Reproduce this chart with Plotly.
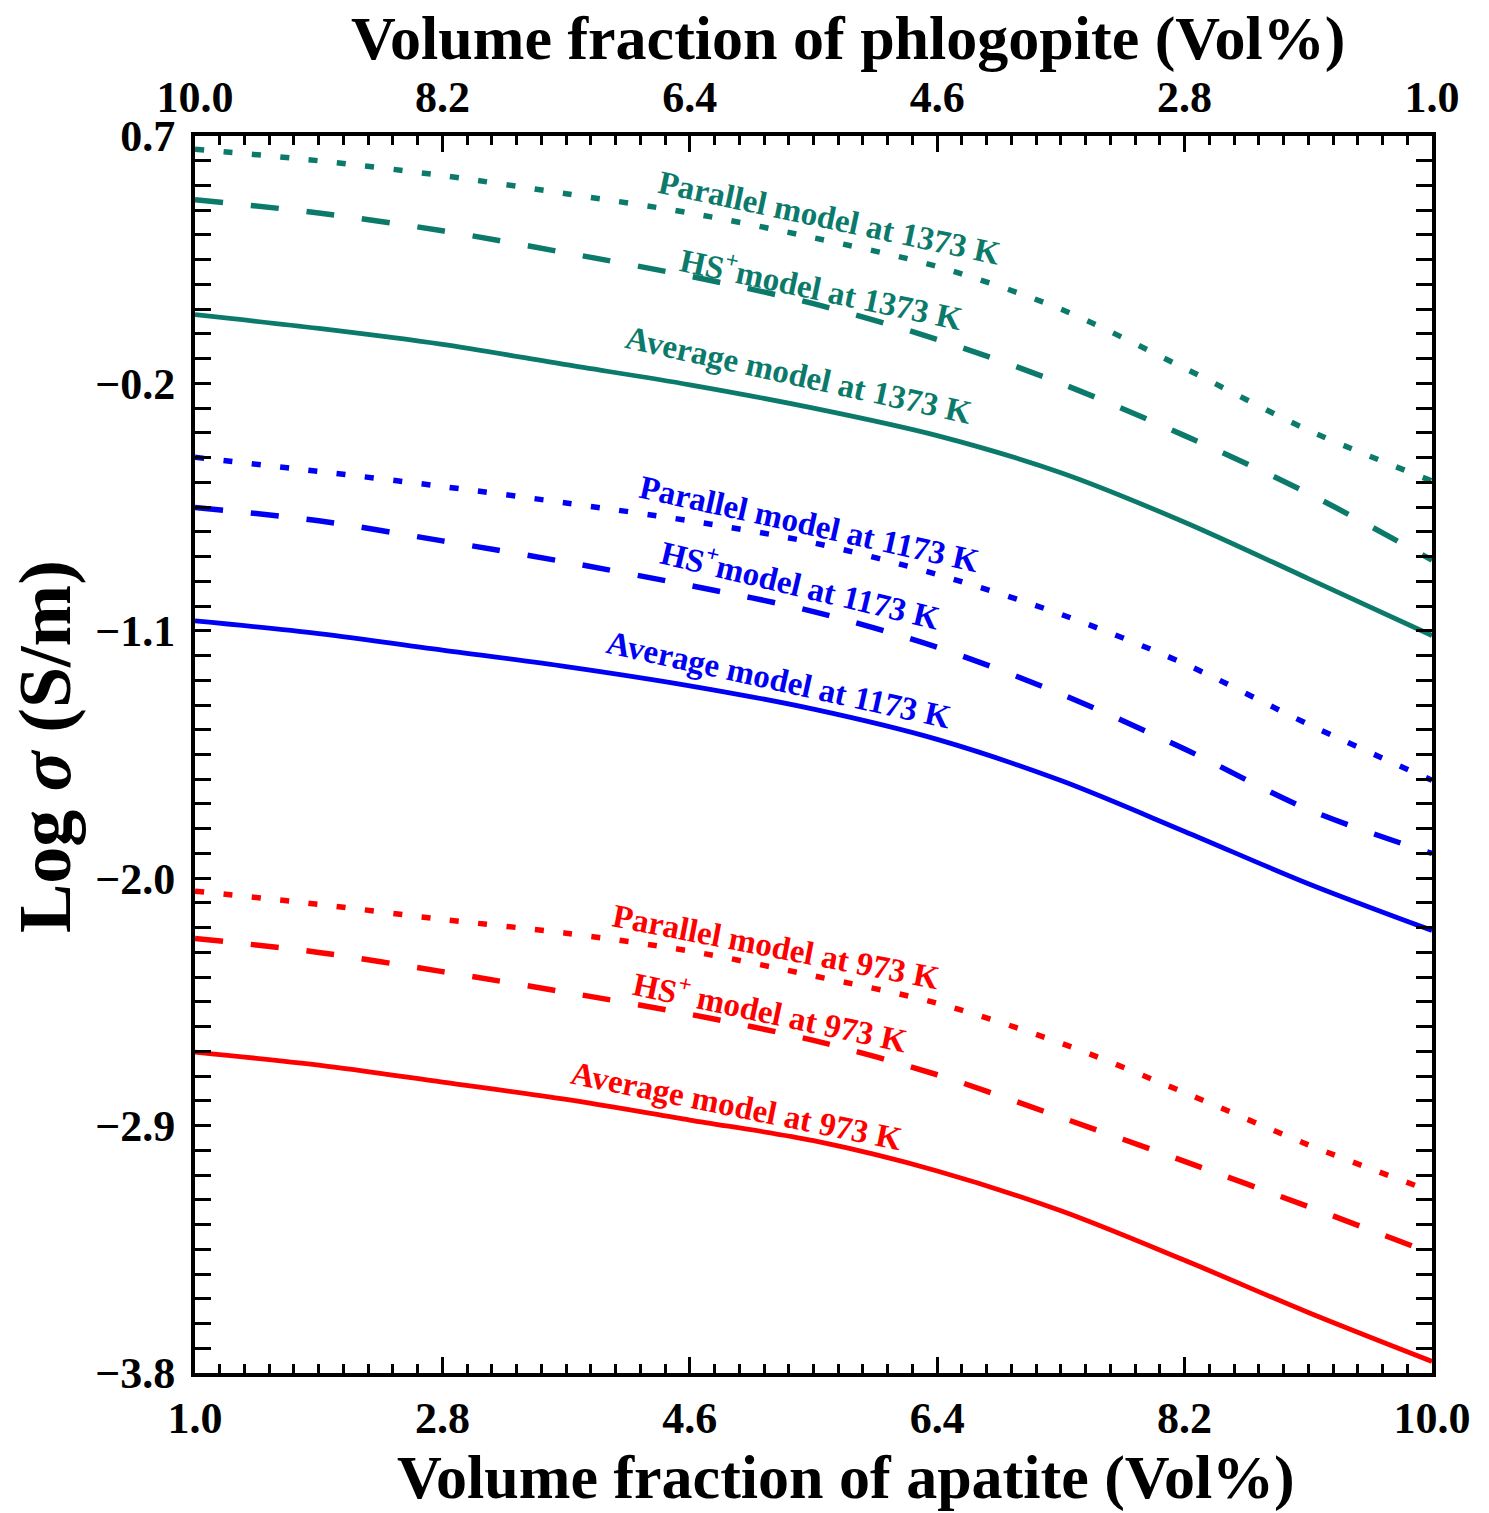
import plotly.graph_objects as go

# Volume fraction of apatite (Vol%)
apatite = [1.0, 1.9, 2.8, 3.7, 4.6, 5.5, 6.4, 7.3, 8.2, 9.1, 10.0]

par_1373 = [0.652, 0.61, 0.556, 0.49, 0.42, 0.33, 0.225, 0.07, -0.145, -0.37, -0.555]
hs_1373 = [0.468, 0.42, 0.355, 0.275, 0.19, 0.09, -0.04, -0.20, -0.39, -0.60, -0.843]
avg_1373 = [0.05, 0.0, -0.058, -0.132, -0.205, -0.29, -0.39, -0.525, -0.705, -0.91, -1.117]

par_1173 = [-0.469, -0.52, -0.575, -0.635, -0.70, -0.78, -0.895, -1.04, -1.22, -1.44, -1.644]
hs_1173 = [-0.651, -0.70, -0.773, -0.85, -0.935, -1.03, -1.16, -1.33, -1.53, -1.75, -1.91]
avg_1173 = [-1.064, -1.11, -1.17, -1.23, -1.30, -1.385, -1.495, -1.645, -1.83, -2.02, -2.19]

par_973 = [-2.047, -2.095, -2.15, -2.20, -2.265, -2.355, -2.455, -2.60, -2.78, -2.97, -3.14]
hs_973 = [-2.219, -2.27, -2.34, -2.415, -2.495, -2.59, -2.715, -2.87, -3.03, -3.195, -3.365]
avg_973 = [-2.633, -2.68, -2.742, -2.805, -2.88, -2.955, -3.065, -3.21, -3.39, -3.58, -3.758]

x_ticks = [1.0, 2.8, 4.6, 6.4, 8.2, 10.0]
x_ticktext = ["1.0", "2.8", "4.6", "6.4", "8.2", "10.0"]
top_ticks = [10.0, 8.2, 6.4, 4.6, 2.8, 1.0]
top_ticktext = ["10.0", "8.2", "6.4", "4.6", "2.8", "1.0"]
y_ticks = [0.7, -0.2, -1.1, -2.0, -2.9, -3.8]
y_ticktext = ["0.7", "\u22120.2", "\u22121.1", "\u22122.0", "\u22122.9", "\u22123.8"]

TEAL = "#0B7A6B"
BLUE = "#0000F5"
RED = "#FF0000"
FONT = "Liberation Serif"

DOT = "9px,19.5px"
DASH = "28px,28px"

series = [
    (par_1373, TEAL, DOT, 5.5, "Parallel model at 1373 K"),
    (hs_1373, TEAL, DASH, 5.5, "HS+ model at 1373 K"),
    (avg_1373, TEAL, "solid", 4.8, "Average model at 1373 K"),
    (par_1173, BLUE, DOT, 5.5, "Parallel model at 1173 K"),
    (hs_1173, BLUE, DASH, 5.5, "HS+ model at 1173 K"),
    (avg_1173, BLUE, "solid", 4.8, "Average model at 1173 K"),
    (par_973, RED, DOT, 5.5, "Parallel model at 973 K"),
    (hs_973, RED, DASH, 5.5, "HS+ model at 973 K"),
    (avg_973, RED, "solid", 4.8, "Average model at 973 K"),
]

fig = go.Figure()
for ys, color, dash, w, name in series:
    fig.add_trace(go.Scatter(
        x=apatite, y=ys, mode="lines", name=name,
        line=dict(color=color, dash=dash, width=w, shape="spline", smoothing=0.9),
        showlegend=False,
    ))

# label annotations (text, color, x, y, angle)
labels = [
    ("Parallel model at 1373 K", TEAL, 5.62, 0.40, 12),
    ("HS<sup>+</sup>model at 1373 K", TEAL, 5.56, 0.15, 12),
    ("Average model at 1373 K", TEAL, 5.39, -0.17, 12.5),
    ("Parallel model at 1173 K", BLUE, 5.47, -0.71, 12.5),
    ("HS<sup>+</sup>model at 1173 K", BLUE, 5.41, -0.925, 13.5),
    ("Average model at 1173 K", BLUE, 5.25, -1.28, 12.5),
    ("Parallel model at 973 K", RED, 5.23, -2.25, 11),
    ("HS<sup>+</sup> model at 973 K", RED, 5.19, -2.48, 12),
    ("Average model at 973 K", RED, 4.94, -2.83, 11.5),
]
for text, color, lx, ly, ang in labels:
    fig.add_annotation(
        x=lx, y=ly, xref="x", yref="y", text=text, showarrow=False,
        textangle=ang,
        font=dict(family=FONT, size=33, color=color, weight="bold"),
    )

L, T, PW, PH = 195, 136, 1237, 1237
W, H = 1489, 1513

def px_to_paper_x(px):
    return (px - L) / PW

def px_to_paper_y(py):
    return (T + PH - py) / PH

# axis titles
fig.add_annotation(
    x=px_to_paper_x(846), y=px_to_paper_y(1477), xref="paper", yref="paper",
    text="Volume fraction of apatite (Vol%)", showarrow=False,
    font=dict(family=FONT, size=62, color="black", weight="bold"),
    xanchor="center", yanchor="middle",
)
fig.add_annotation(
    x=px_to_paper_x(848), y=px_to_paper_y(38), xref="paper", yref="paper",
    text="Volume fraction of phlogopite (Vol%)", showarrow=False,
    font=dict(family=FONT, size=62, color="black", weight="bold"),
    xanchor="center", yanchor="middle",
)
fig.add_annotation(
    x=px_to_paper_x(45), y=px_to_paper_y(747), xref="paper", yref="paper",
    text="Log <i>\u03c3</i> (S/m)", showarrow=False, textangle=-90,
    font=dict(family=FONT, size=74, color="black", weight="bold"),
    xanchor="center", yanchor="middle",
)

tickfont = dict(family=FONT, size=44, color="black", weight="bold")

fig.update_layout(
    width=W, height=H,
    margin=dict(l=L, r=W - L - PW, t=T, b=H - T - PH),
    paper_bgcolor="white", plot_bgcolor="white",
    xaxis=dict(
        range=[1, 10], tickvals=x_ticks, ticktext=x_ticktext,
        ticks="inside", ticklen=16, tickwidth=3, tickcolor="black",
        minor=dict(ticks="inside", ticklen=9, tickwidth=3, tickcolor="black",
                   dtick=0.18, tick0=1.0),
        showline=True, linewidth=4, linecolor="black", mirror=False,
        showgrid=False, zeroline=False, tickfont=tickfont, ticklabelstandoff=3,
    ),
    xaxis2=dict(
        range=[10, 1], overlaying="x", side="top", anchor="y",
        tickvals=top_ticks, ticktext=top_ticktext,
        ticks="inside", ticklen=16, tickwidth=3, tickcolor="black",
        minor=dict(ticks="inside", ticklen=9, tickwidth=3, tickcolor="black",
                   dtick=0.18, tick0=1.0),
        showline=True, linewidth=4, linecolor="black",
        showgrid=False, zeroline=False, tickfont=tickfont, ticklabelstandoff=2,
    ),
    yaxis=dict(
        range=[-3.8, 0.7], tickvals=y_ticks, ticktext=y_ticktext,
        ticks="inside", ticklen=16, tickwidth=3, tickcolor="black",
        minor=dict(ticks="inside", ticklen=9, tickwidth=3, tickcolor="black",
                   dtick=0.09, tick0=-3.8),
        showline=True, linewidth=4, linecolor="black", mirror="allticks",
        showgrid=False, zeroline=False, tickfont=tickfont, ticklabelstandoff=7,
    ),
)

# invisible trace to activate the top axis
fig.add_trace(go.Scatter(x=[10, 1], y=[None, None], xaxis="x2", yaxis="y",
                         mode="lines", showlegend=False, hoverinfo="skip"))

fig.write_html("out.html",
               config={"displayModeBar": False},
               post_script="document.body.style.margin='0';document.body.style.overflow='hidden';")
